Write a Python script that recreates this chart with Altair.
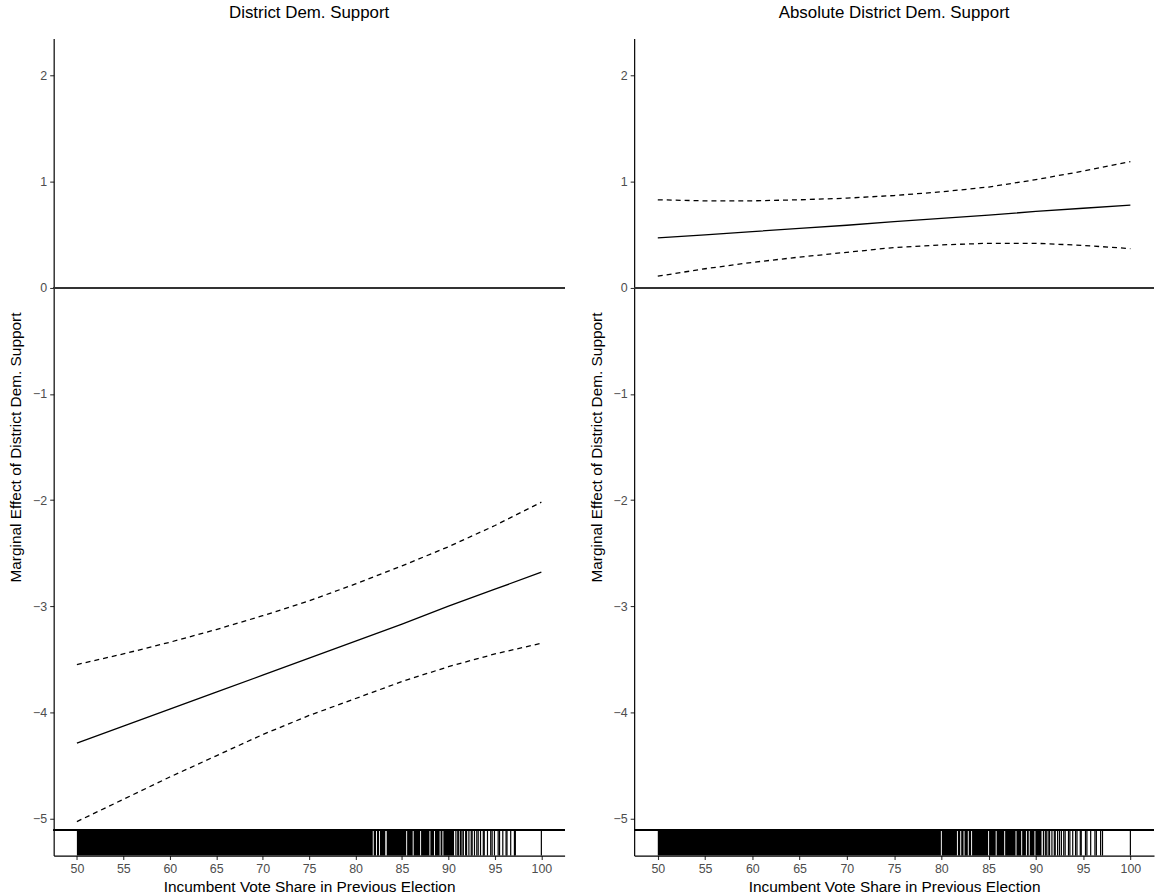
import altair as alt
import pandas as pd

# ---- data ----
x_grid = [50, 55, 60, 65, 70, 75, 80, 85, 90, 95, 100]

est_left = [-4.29, -4.13, -3.97, -3.81, -3.65, -3.49, -3.33, -3.17, -3.00, -2.84, -2.68]
upper_left = [-3.55, -3.45, -3.34, -3.22, -3.09, -2.95, -2.79, -2.62, -2.44, -2.24, -2.02]
lower_left = [-5.03, -4.82, -4.61, -4.41, -4.21, -4.03, -3.87, -3.71, -3.57, -3.45, -3.35]

est_right = [0.47, 0.50, 0.53, 0.56, 0.59, 0.625, 0.655, 0.685, 0.72, 0.75, 0.78]
upper_right = [0.83, 0.82, 0.82, 0.83, 0.845, 0.87, 0.905, 0.95, 1.02, 1.10, 1.19]
lower_right = [0.11, 0.18, 0.24, 0.29, 0.335, 0.38, 0.405, 0.42, 0.42, 0.40, 0.37]

# rug: dense runs of observations (start, end) and single observations
rug_runs_left_start = [50.0, 81.95, 82.3, 82.62, 83.35, 85.55, 86.25, 87.05, 88.05, 88.55, 89.15, 89.45]
rug_runs_left_end = [81.85, 82.2, 82.52, 83.2, 85.45, 86.15, 86.95, 87.95, 88.45, 89.05, 89.35, 90.6]
rug_single_left = [90.8, 91.0, 91.1, 91.3, 91.45, 91.6, 91.85, 91.95, 92.2, 92.45, 92.55,
                   92.8, 93.05, 93.2, 93.45, 93.75, 93.85, 94.2, 94.55, 94.7, 94.95,
                   95.35, 95.5, 95.85, 96.2, 96.3, 96.7, 97.1, 97.2, 100.0]

rug_runs_right_start = [50.0, 80.05, 81.75, 82.1, 82.45, 82.9, 83.25, 85.05, 85.85, 86.75,
                        87.95, 88.55, 89.05, 89.35, 89.95]
rug_runs_right_end = [79.95, 81.65, 82.0, 82.35, 82.8, 83.15, 84.95, 85.75, 86.65, 87.85,
                      88.45, 88.95, 89.25, 89.85, 90.6]
rug_single_right = [90.8, 91.0, 91.1, 91.3, 91.45, 91.7, 91.95, 92.05, 92.3, 92.5, 92.7,
                    92.95, 93.1, 93.45, 93.6, 93.9, 94.2, 94.35, 94.7, 94.8, 95.25,
                    95.4, 95.8, 96.25, 96.4, 96.85, 97.05, 100.0]

x_ticks = [50, 55, 60, 65, 70, 75, 80, 85, 90, 95, 100]
y_ticks = [-5, -4, -3, -2, -1, 0, 1, 2]

titles = ["District Dem. Support", "Absolute District Dem. Support"]
x_title = "Incumbent Vote Share in Previous Election"
y_title = "Marginal Effect of District Dem. Support"

FONT = "Liberation Sans"
RUG_TOP = -5.11
Y_MIN, Y_MAX = -5.35, 2.35
X_MIN, X_MAX = 47.5, 102.5

xs = alt.Scale(domain=[X_MIN, X_MAX], nice=False, zero=False)
ys = alt.Scale(domain=[Y_MIN, Y_MAX], nice=False, zero=False)

x_axis = alt.Axis(values=x_ticks, title=x_title, grid=False, format="d")
y_axis = alt.Axis(values=y_ticks, title=y_title, grid=False, format="d")


def panel(title, est, upper, lower, rs, re, singles, width):
    df = pd.DataFrame({"x": x_grid, "est": est, "upper": upper, "lower": lower})
    runs = pd.DataFrame({"a": rs, "b": re})
    single = pd.DataFrame({"v": singles})
    base = alt.Chart(df)
    est_line = base.mark_line(color="black", strokeWidth=1.3).encode(
        x=alt.X("x:Q", scale=xs, axis=x_axis),
        y=alt.Y("est:Q", scale=ys, axis=y_axis),
    )
    up_line = base.mark_line(color="black", strokeWidth=1.3, strokeDash=[5, 4]).encode(
        x=alt.X("x:Q", scale=xs, axis=x_axis),
        y=alt.Y("upper:Q", scale=ys, axis=y_axis),
    )
    lo_line = base.mark_line(color="black", strokeWidth=1.3, strokeDash=[5, 4]).encode(
        x=alt.X("x:Q", scale=xs, axis=x_axis),
        y=alt.Y("lower:Q", scale=ys, axis=y_axis),
    )
    zero = alt.Chart(df).mark_rule(color="#333333", strokeWidth=1.3).encode(
        y=alt.Y(datum=0, scale=ys, axis=y_axis)
    )
    rug_top = alt.Chart(df).mark_rule(color="black", strokeWidth=1.2).encode(
        y=alt.Y(datum=RUG_TOP, scale=ys, axis=y_axis)
    )
    rug_runs = alt.Chart(runs).mark_rect(color="black").encode(
        x=alt.X("a:Q", scale=xs, axis=x_axis),
        x2="b:Q",
        y=alt.Y(datum=RUG_TOP, scale=ys, axis=y_axis),
        y2=alt.Y2(datum=Y_MIN),
    )
    rug_lines = alt.Chart(single).mark_rule(color="black", strokeWidth=1.2).encode(
        x=alt.X("v:Q", scale=xs, axis=x_axis),
        y=alt.Y(datum=RUG_TOP, scale=ys, axis=y_axis),
        y2=alt.Y2(datum=Y_MIN),
    )
    return alt.layer(
        est_line, up_line, lo_line, zero, rug_top, rug_runs, rug_lines
    ).properties(
        width=width,
        height=822,
        title=alt.TitleParams(
            title, font=FONT, fontSize=17, fontWeight="normal", color="black",
            anchor="middle", frame="group", offset=17,
        ),
    )


left = panel(titles[0], est_left, upper_left, lower_left,
             rug_runs_left_start, rug_runs_left_end, rug_single_left, 514)
right = panel(titles[1], est_right, upper_right, lower_right,
              rug_runs_right_start, rug_runs_right_end, rug_single_right, 523)

chart = alt.hconcat(left, right, spacing=22).properties(
    padding={"left": 8, "top": 0, "right": 0, "bottom": 0}
).configure_view(stroke="transparent").configure_axis(
    labelFont=FONT, labelFontSize=12.5, labelColor="#4D4D4D",
    titleFont=FONT, titleFontSize=15.5, titleColor="black", titleFontWeight="normal",
    domainColor="black", domainWidth=1.2, tickColor="#333333", tickSize=4,
    tickWidth=1.1, labelPadding=3,
).configure_axisY(titlePadding=9).configure_axisX(titlePadding=5)

chart.save("out.html", embed_options={"renderer": "svg", "actions": False})
